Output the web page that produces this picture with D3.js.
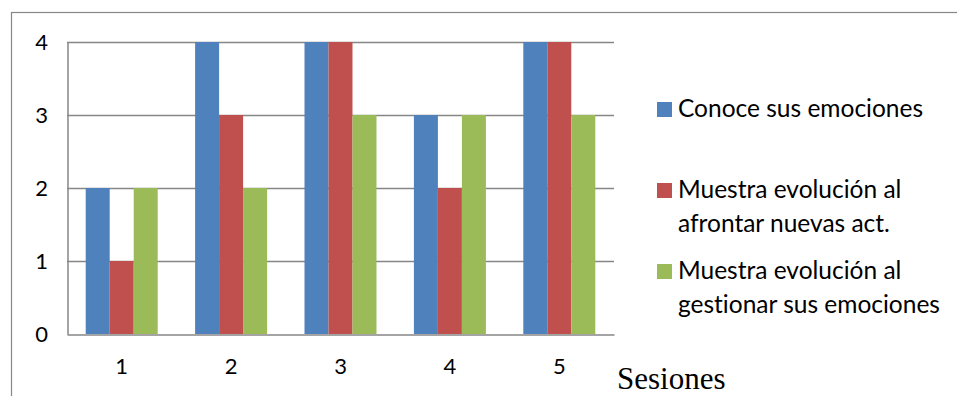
<!DOCTYPE html>
<html>
<head>
<meta charset="utf-8">
<script src="https://cdn.jsdelivr.net/npm/d3@7"></script>
<style>
  html, body { margin: 0; padding: 0; background: #fff; }
  svg { display: block; }
  text { font-variant-ligatures: none; }
</style>
</head>
<body>
<svg id="chart" width="957" height="396"></svg>
<script>
// Sessions and scores per indicator
const sessions = ["1", "2", "3", "4", "5"];
const seriesNames = [
  ["Conoce sus emociones"],
  ["Muestra evolución al", "afrontar nuevas act."],
  ["Muestra evolución al", "gestionar sus emociones"]
];
const conoce = [2, 4, 4, 3, 4];
const afrontar = [1, 3, 4, 2, 4];
const gestionar = [2, 2, 3, 3, 3];
const yTicks = [0, 1, 2, 3, 4];
const colors = ["#4F81BD", "#C0504D", "#9BBB59"];
const axisTitle = "Sesiones";

const series = [conoce, afrontar, gestionar];
const svg = d3.select("#chart");
const font = "Lato, 'Open Sans', sans-serif";

// outer frame
svg.append("rect")
  .attr("x", 11.5).attr("y", 12.5)
  .attr("width", 1000).attr("height", 500)
  .attr("fill", "none").attr("stroke", "#878787").attr("stroke-width", 1.2);

const plot = { left: 67, right: 614, top: 42, bottom: 334 };

const x = d3.scaleBand().domain(sessions)
  .range([plot.left, plot.right]).paddingInner(0.342).paddingOuter(0.171);
const xs = d3.scaleBand().domain(d3.range(series.length))
  .range([0, x.bandwidth()]);
const y = d3.scaleLinear().domain([0, 4]).range([plot.bottom, plot.top]);

// horizontal gridlines
svg.append("g").selectAll("line").data(yTicks.filter(d => d > 0)).join("line")
  .attr("x1", plot.left).attr("x2", plot.right)
  .attr("y1", d => Math.round(y(d)) + 0.5).attr("y2", d => Math.round(y(d)) + 0.5)
  .attr("stroke", "#868686").attr("stroke-width", 1.5);

// bars
series.forEach((vals, si) => {
  svg.append("g").selectAll("rect").data(vals).join("rect")
    .attr("x", (d, i) => x(sessions[i]) + xs(si))
    .attr("width", xs.bandwidth())
    .attr("y", d => y(d))
    .attr("height", d => y(0) - y(d))
    .attr("fill", colors[si]);
});

// y axis
const yAxis = svg.append("g").attr("transform", `translate(${plot.left + 0.5},0)`)
  .call(d3.axisLeft(y).tickValues(yTicks).tickFormat(d3.format("d")).tickSize(0).tickPadding(26));
yAxis.select(".domain").attr("stroke", "#868686").attr("stroke-width", 1.5);
yAxis.selectAll("text").attr("font-family", font).attr("font-size", 22).attr("fill", "#000")
  .attr("text-anchor", "middle");

// x axis
const xAxis = svg.append("g").attr("transform", `translate(0,${plot.bottom + 0.5})`)
  .call(d3.axisBottom(x).tickSize(0).tickPadding(24));
xAxis.select(".domain").attr("stroke", "#868686").attr("stroke-width", 1.5);
xAxis.selectAll("text").attr("font-family", font).attr("font-size", 22).attr("fill", "#000");

// axis title
svg.append("text").attr("x", 617).attr("y", 389)
  .attr("font-family", "'Liberation Serif', 'Times New Roman', serif")
  .attr("font-size", 31).attr("fill", "#000").text(axisTitle);

// legend
const legendY = [102, 183, 264];
const legend = svg.append("g");
seriesNames.forEach((lines, i) => {
  legend.append("rect").attr("x", 657).attr("y", legendY[i])
    .attr("width", 15).attr("height", 15).attr("fill", colors[i]);
  const t = legend.append("text").attr("x", 678).attr("y", legendY[i] + 15)
    .attr("font-family", font).attr("font-size", 24.5).attr("fill", "#000");
  lines.forEach((ln, j) => {
    t.append("tspan").attr("x", 678).attr("dy", j === 0 ? 0 : 34).text(ln);
  });
});
</script>
</body>
</html>
